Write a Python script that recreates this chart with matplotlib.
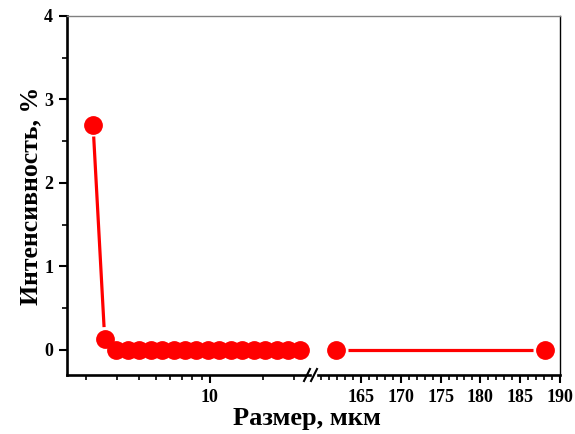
import numpy as np
import matplotlib
matplotlib.use("Agg")
import matplotlib.pyplot as plt
from matplotlib.ticker import FixedLocator, NullFormatter, FixedFormatter, MultipleLocator

plt.rcParams['font.family'] = ['Liberation Serif', 'DejaVu Serif']
plt.rcParams['font.weight'] = 'bold'

# data (size in um, intensity in %)
size_left = [2.19, 2.55, 2.96, 3.44, 3.99, 4.64, 5.39, 6.25, 7.26, 8.43, 9.79,
             11.37, 13.2, 15.3, 17.8, 20.7, 24.0, 27.9, 32.5]
int_left = [2.7, 0.13, 0, 0, 0, 0, 0, 0, 0, 0, 0, 0, 0, 0, 0, 0, 0, 0, 0]
size_right = [161.9, 188.1]
int_right = [0, 0]

right_ticks = [165, 170, 175, 180, 185, 190]
left_major = [10]
left_minor = [2, 3, 4, 5, 6, 7, 8, 9, 20, 30]
y_ticks = [0, 1, 2, 3, 4]

RED = '#ff0000'
DPI = 100
W, H = 575, 434
fig = plt.figure(figsize=(W / DPI, H / DPI), dpi=DPI)

def fx(px):
    return px / W

def fy(py):
    return (H - py) / H

bottom, top = fy(375), fy(16)
axL = fig.add_axes([fx(67), bottom, fx(310) - fx(67), top - bottom])
axR = fig.add_axes([fx(318), bottom, fx(560) - fx(318), top - bottom])

TL = 13
for ax in (axL, axR):
    ax.set_ylim(-0.3, 4)
    ax.spines['top'].set_visible(False)
    ax.spines['bottom'].set_linewidth(1.9)
    ax.tick_params(axis='x', which='major', direction='out', length=6, width=1.5,
                   labelsize=TL, pad=4)
    ax.tick_params(axis='x', which='minor', direction='out', length=3.5, width=1.2)
    ax.tick_params(axis='x', top=False)
    ax.set_facecolor('none')

# continuous top frame line
fig.add_artist(plt.Line2D([fx(67), fx(560)], [top, top], color='#808080', lw=1.0,
                          transform=fig.transFigure))

# left axis
axL.set_xscale('log')
axL.set_xlim(1.56, 37.0)
axL.xaxis.set_major_locator(FixedLocator(left_major))
axL.xaxis.set_major_formatter(FixedFormatter([str(v) for v in left_major]))
axL.xaxis.set_minor_locator(FixedLocator(left_minor))
axL.xaxis.set_minor_formatter(NullFormatter())
axL.spines['right'].set_visible(False)
axL.spines['left'].set_linewidth(1.9)
axL.yaxis.set_major_locator(FixedLocator(y_ticks))
axL.yaxis.set_minor_locator(MultipleLocator(0.5))
axL.tick_params(axis='y', which='major', direction='out', length=6, width=1.5, labelsize=TL, pad=4)
axL.tick_params(axis='y', which='minor', direction='out', length=3.5, width=1.2)
for lab in axL.get_xticklabels() + axL.get_yticklabels():
    lab.set_fontweight('bold')

# right axis
axR.set_xlim(159.6, 190)
axR.xaxis.set_major_locator(FixedLocator(right_ticks))
axR.xaxis.set_minor_locator(MultipleLocator(1))
axR.spines['left'].set_visible(False)
axR.spines['right'].set_linewidth(1.0)
axR.spines['right'].set_color('black')
axR.tick_params(axis='y', left=False, right=False, labelleft=False)
for lab in axR.get_xticklabels():
    lab.set_fontweight('bold')

MS = 12.5
GAP = 12  # pixels from marker center

def gapped_line(ax, xs, ys):
    pts = ax.transData.transform(np.column_stack([xs, ys]))
    inv = ax.transData.inverted()
    for i in range(len(pts) - 1):
        p0, p1 = pts[i], pts[i + 1]
        d = p1 - p0
        L = np.hypot(*d)
        if L <= 2 * GAP + 1:
            continue
        u = d / L
        a = inv.transform(p0 + u * GAP)
        b = inv.transform(p1 - u * GAP)
        ax.plot([a[0], b[0]], [a[1], b[1]], color=RED, lw=2.3,
                solid_capstyle='butt', zorder=2, clip_on=False)

gapped_line(axL, size_left, int_left)
gapped_line(axR, size_right, int_right)
axL.plot(size_left, int_left, 'o', color=RED, ms=MS, mec=RED, zorder=3, clip_on=False)
axR.plot(size_right, int_right, 'o', color=RED, ms=MS, mec=RED, zorder=3, clip_on=False)

# break marks
for px in (307, 314):
    fig.add_artist(plt.Line2D([fx(px - 3), fx(px + 3)], [fy(375 + 6), fy(375 - 6)],
                              color='black', lw=1.5, transform=fig.transFigure))

fig.text(fx(307), fy(418), 'Размер, мкм', ha='center', va='center',
         fontsize=19, fontweight='bold')
fig.text(fx(31), fy(196), 'Интенсивность, %', ha='center', va='center',
         rotation=90, fontsize=18.5, fontweight='bold')

fig.savefig('out.png', dpi=DPI)
